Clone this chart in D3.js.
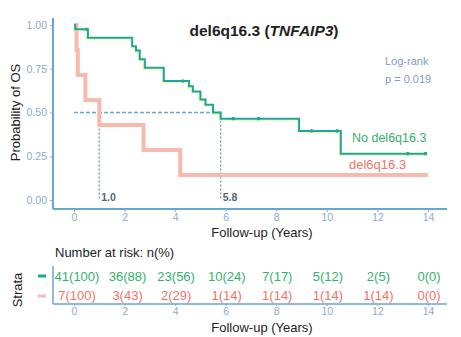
<!DOCTYPE html>
<html>
<head>
<meta charset="utf-8">
<script src="https://cdn.jsdelivr.net/npm/d3@7"></script>
<style>
  body { margin: 0; background: #fff; }
  text { font-family: "Liberation Sans", Arial, sans-serif; }
</style>
</head>
<body>
<div id="chart"></div>
<script>
// time axis ticks and probability ticks
const timeTicks = [0, 2, 4, 6, 8, 10, 12, 14];
const probTicks = [0, 0.25, 0.5, 0.75, 1];

// KM steps: No del6q16.3
const noDelTimes = [0, 0.05, 0.55, 2.3, 2.45, 2.6, 2.8, 3.55, 4.55, 4.7, 5.0, 5.2, 5.5, 5.8, 8.9, 10.55, 13.9];
const noDelSurv  = [1, 0.976, 0.927, 0.878, 0.854, 0.805, 0.756, 0.68, 0.65, 0.62, 0.575, 0.545, 0.5, 0.465, 0.395, 0.265, 0.265];
const noDelCensor = [0.5, 4.3, 6.3, 7.3, 9.4, 10.4, 13.2, 13.9];

// del6q16.3
const delTimes = [0, 0.1, 0.15, 0.45, 1.0, 2.75, 4.2, 14];
const delSurv  = [1, 0.857, 0.714, 0.571, 0.429, 0.286, 0.143, 0.143];

const medians = [1.0, 5.8];
const medianLabels = ['1.0', '5.8'];

// number at risk
const riskNoDel = ['41(100)', '36(88)', '23(56)', '10(24)', '7(17)', '5(12)', '2(5)', '0(0)'];
const riskDel   = ['7(100)', '3(43)', '2(29)', '1(14)', '1(14)', '1(14)', '1(14)', '0(0)'];

const green = '#1fa69a';
const greenText = '#34b36a';
const red = '#f8b9ae';
const redText = '#f07366';
const axisCol = '#68a6d0';
const tickCol = '#8aaccb';
const dashCol = '#6ea3cf';

const W = 461, H = 337;
const svg = d3.select('#chart').append('svg')
  .attr('width', W).attr('height', H);

const x = d3.scaleLinear().domain([0, 14]).range([74, 428]);
const y = d3.scaleLinear().domain([0, 1]).range([200, 25]);

// title
const title = svg.append('text')
  .attr('x', 264).attr('y', 36)
  .attr('text-anchor', 'middle')
  .style('font-size', '15.5px').style('font-weight', 'bold')
  .attr('fill', '#222');
title.append('tspan').text('del6q16.3 (');
title.append('tspan').style('font-style', 'italic').text('TNFAIP3');
title.append('tspan').text(')');

// axes lines
svg.append('line')
  .attr('x1', x(-0.83)).attr('x2', x(-0.83))
  .attr('y1', y(1.04)).attr('y2', y(-0.052))
  .attr('stroke', axisCol).attr('stroke-width', 2);
svg.append('line')
  .attr('x1', x(-0.83)).attr('x2', x(14.75))
  .attr('y1', y(-0.052)).attr('y2', y(-0.052))
  .attr('stroke', axisCol).attr('stroke-width', 2);

// y ticks
const yAxis = svg.append('g')
  .attr('transform', `translate(${x(-0.83)},0)`)
  .call(d3.axisLeft(y).tickValues(probTicks).tickFormat(d3.format('.2f')).tickSize(3));
yAxis.select('.domain').remove();
yAxis.selectAll('line').attr('stroke', tickCol);
yAxis.selectAll('text').attr('fill', tickCol)
  .style('font-size', '10.5px').style('font-family', '"Liberation Sans", Arial, sans-serif');

// x ticks
const xAxis = svg.append('g')
  .attr('transform', `translate(0,${y(-0.052)})`)
  .call(d3.axisBottom(x).tickValues(timeTicks).tickSize(3));
xAxis.select('.domain').remove();
xAxis.selectAll('line').attr('stroke', tickCol);
xAxis.selectAll('text').attr('fill', tickCol).attr('dy', '0.55em')
  .style('font-size', '10.5px').style('font-family', '"Liberation Sans", Arial, sans-serif');

// median lines
svg.append('line')
  .attr('x1', x(0)).attr('x2', x(medians[1]))
  .attr('y1', y(0.5)).attr('y2', y(0.5))
  .attr('stroke', dashCol).attr('stroke-width', 1.6)
  .attr('stroke-dasharray', '4,2');
medians.forEach((m, i) => {
  svg.append('line')
    .attr('x1', x(m)).attr('x2', x(m))
    .attr('y1', y(0.5)).attr('y2', y(0))
    .attr('stroke', dashCol).attr('stroke-width', 1.4)
    .attr('stroke-dasharray', '2,2');
  svg.append('text')
    .attr('x', x(m) + 2).attr('y', y(0) + 1)
    .style('font-size', '10.5px').style('font-weight', 'bold')
    .attr('fill', '#556677')
    .text(medianLabels[i]);
});

// KM curves
const stepLine = d3.line()
  .x(d => x(d[0])).y(d => y(d[1]))
  .curve(d3.curveStepAfter);

const delData = delTimes.map((t, i) => [t, delSurv[i]]);
const noDelData = noDelTimes.map((t, i) => [t, noDelSurv[i]]);

svg.append('path').datum(delData)
  .attr('d', stepLine).attr('fill', 'none')
  .attr('stroke', red).attr('stroke-width', 4);

svg.append('path').datum(noDelData)
  .attr('d', stepLine).attr('fill', 'none')
  .attr('stroke', '#eef08f').attr('stroke-width', 3.5).attr('opacity', 0.45)
  .attr('transform', 'translate(-0.5,1)');
svg.append('path').datum(noDelData)
  .attr('d', stepLine).attr('fill', 'none')
  .attr('stroke', green).attr('stroke-width', 2);

// censor marks
const bis = d3.bisector(d => d).right;
noDelCensor.forEach(t => {
  const s = noDelSurv[bis(noDelTimes, t) - 1];
  svg.append('circle')
    .attr('cx', x(t)).attr('cy', y(s))
    .attr('r', 1.8).attr('fill', green);
});

// log-rank
svg.append('text').attr('x', 385).attr('y', 65)
  .style('font-size', '11px').attr('fill', '#7f9dbd').text('Log-rank');
svg.append('text').attr('x', 385).attr('y', 83)
  .style('font-size', '11px').attr('fill', '#7f9dbd').text('p = 0.019');

// curve labels
svg.append('text').attr('x', 352).attr('y', 142)
  .style('font-size', '12.5px').attr('fill', greenText).text('No del6q16.3');
svg.append('text').attr('x', 349).attr('y', 169)
  .style('font-size', '13px').attr('fill', redText).text('del6q16.3');

// y label
svg.append('text')
  .attr('transform', `translate(20,${y(0.5)}) rotate(-90)`)
  .attr('text-anchor', 'middle')
  .style('font-size', '13px').attr('fill', '#222')
  .text('Probability of OS');

// x label
svg.append('text').attr('x', 262).attr('y', 237)
  .attr('text-anchor', 'middle')
  .style('font-size', '13px').attr('fill', '#222')
  .text('Follow-up (Years)');

// risk table
svg.append('text').attr('x', 55).attr('y', 257)
  .style('font-size', '13px').attr('fill', '#222')
  .text('Number at risk: n(%)');

const rowY = [281, 300];
[riskNoDel, riskDel].forEach((row, r) => {
  svg.selectAll(null).data(row).enter().append('text')
    .attr('x', (d, i) => x(timeTicks[i]) + (i < 2 ? 3 : 1))
    .attr('y', rowY[r])
    .attr('text-anchor', 'middle')
    .style('font-size', '13px')
    .attr('fill', r === 0 ? greenText : redText)
    .text(d => d);
});

// legend dashes
svg.append('line').attr('x1', 38).attr('x2', 46).attr('y1', 276).attr('y2', 276)
  .attr('stroke', green).attr('stroke-width', 3);
svg.append('line').attr('x1', 38).attr('x2', 46).attr('y1', 296).attr('y2', 296)
  .attr('stroke', red).attr('stroke-width', 3);

// table axis
svg.append('line')
  .attr('x1', x(-0.83)).attr('x2', x(14.75))
  .attr('y1', 304).attr('y2', 304)
  .attr('stroke', axisCol).attr('stroke-width', 1.5);
svg.append('line')
  .attr('x1', x(-0.83)).attr('x2', x(-0.83))
  .attr('y1', 266).attr('y2', 304)
  .attr('stroke', axisCol).attr('stroke-width', 1.5);
const tAxis = svg.append('g')
  .attr('transform', 'translate(0,304)')
  .call(d3.axisBottom(x).tickValues(timeTicks).tickSize(2));
tAxis.select('.domain').remove();
tAxis.selectAll('line').attr('stroke', tickCol);
tAxis.selectAll('text').attr('fill', tickCol).attr('dy', '0.6em')
  .style('font-size', '10.5px').style('font-family', '"Liberation Sans", Arial, sans-serif');

svg.append('text')
  .attr('transform', 'translate(22,290) rotate(-90)')
  .attr('text-anchor', 'middle')
  .style('font-size', '13px').attr('fill', '#222')
  .text('Strata');

svg.append('text').attr('x', 262).attr('y', 332)
  .attr('text-anchor', 'middle')
  .style('font-size', '13px').attr('fill', '#222')
  .text('Follow-up (Years)');
</script>
</body>
</html>
